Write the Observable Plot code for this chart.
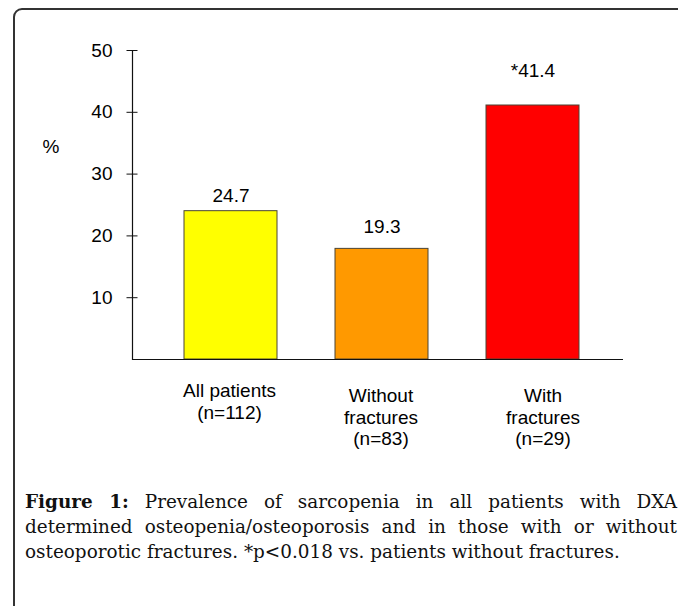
<!DOCTYPE html>
<html>
<head>
<meta charset="utf-8">
<script src="https://cdn.jsdelivr.net/npm/d3@7"></script>
<script src="https://cdn.jsdelivr.net/npm/@observablehq/plot@0.6"></script>
<style>
html, body { margin: 0; padding: 0; width: 678px; height: 606px; overflow: hidden; background: #fff; }
#frame { position: absolute; left: 13px; top: 8px; width: 740px; height: 720px; border: 2px solid #333; border-radius: 9px; box-sizing: border-box; }
#chart { position: absolute; left: 0; top: 0; }
#caption { position: absolute; left: 25px; top: 489px; width: 652px; font-family: "DejaVu Serif", "Liberation Serif", serif; font-size: 18.4px; line-height: 25px; color: #111; }
#caption .j { text-align: justify; text-align-last: justify; white-space: nowrap; }
#caption .l { white-space: nowrap; }
</style>
</head>
<body>
<div id="frame"></div>
<div id="chart"></div>
<div id="caption">
  <div class="j"><b>Figure 1:</b> Prevalence of sarcopenia in all patients with DXA</div>
  <div class="j">determined osteopenia/osteoporosis and in those with or without</div>
  <div class="l">osteoporotic fractures. *p&lt;0.018 vs. patients without fractures.</div>
</div>
<script>
// Data
const keys = ["all", "without", "with"];
const categoryLabels = ["All patients\n(n=112)", "Without\nfractures\n(n=83)", "With\nfractures\n(n=29)"];
const barValues = [24.0, 17.9, 41.1];
const valueLabels = ["24.7", "19.3", "*41.4"];
const barColors = ["#ffff00", "#ff9900", "#ff0000"];
const yTicks = [10, 20, 30, 40, 50];

const data = keys.map((k, i) => ({key: k, cat: categoryLabels[i], value: barValues[i], label: valueLabels[i]}));

// per-mark label offsets (layout)
const valueDy = [-15, -22.3, -35];
const catDy = [22.5, 27.5, 27.5];
const catDx = [-1.5, -1, 10];

const chart = Plot.plot({
  width: 678,
  height: 460,
  marginTop: 50,
  marginBottom: 101,
  marginLeft: 132,
  marginRight: 55,
  style: {fontFamily: "'Liberation Sans', Arial, sans-serif", fontSize: "19px", background: "none", color: "#000", overflow: "visible"},
  x: {domain: keys, paddingInner: 0.384, paddingOuter: 0.31, align: 0.54, axis: null},
  y: {domain: [0, 50], axis: null},
  color: {domain: keys, range: barColors},
  marks: [
    Plot.barY(data, {x: "key", y: "value", fill: "key", stroke: "#4a4535", strokeWidth: 1}),
    Plot.ruleY([0], {stroke: "#111", strokeWidth: 1.2}),
    Plot.frame({anchor: "left", stroke: "#111", strokeWidth: 1.2}),
    Plot.axisY({ticks: yTicks, tickSize: 11, dx: 5.5, tickPadding: 14.5, label: null, stroke: "#111", fill: "#000"}),
    Plot.text(["%"], {frameAnchor: "top-left", dx: -81.5, dy: 96, textAnchor: "middle", lineAnchor: "middle", fill: "#000"}),
    ...data.map((d, i) => Plot.text([d], {x: "key", y: "value", text: "label", dy: valueDy[i], lineAnchor: "middle", fill: "#000"})),
    ...data.map((d, i) => Plot.text([d], {x: "key", text: "cat", frameAnchor: "bottom", lineAnchor: "top", lineHeight: 1.13, dy: catDy[i], dx: catDx[i], fill: "#000"}))
  ]
});
document.getElementById("chart").appendChild(chart);
</script>
</body>
</html>
